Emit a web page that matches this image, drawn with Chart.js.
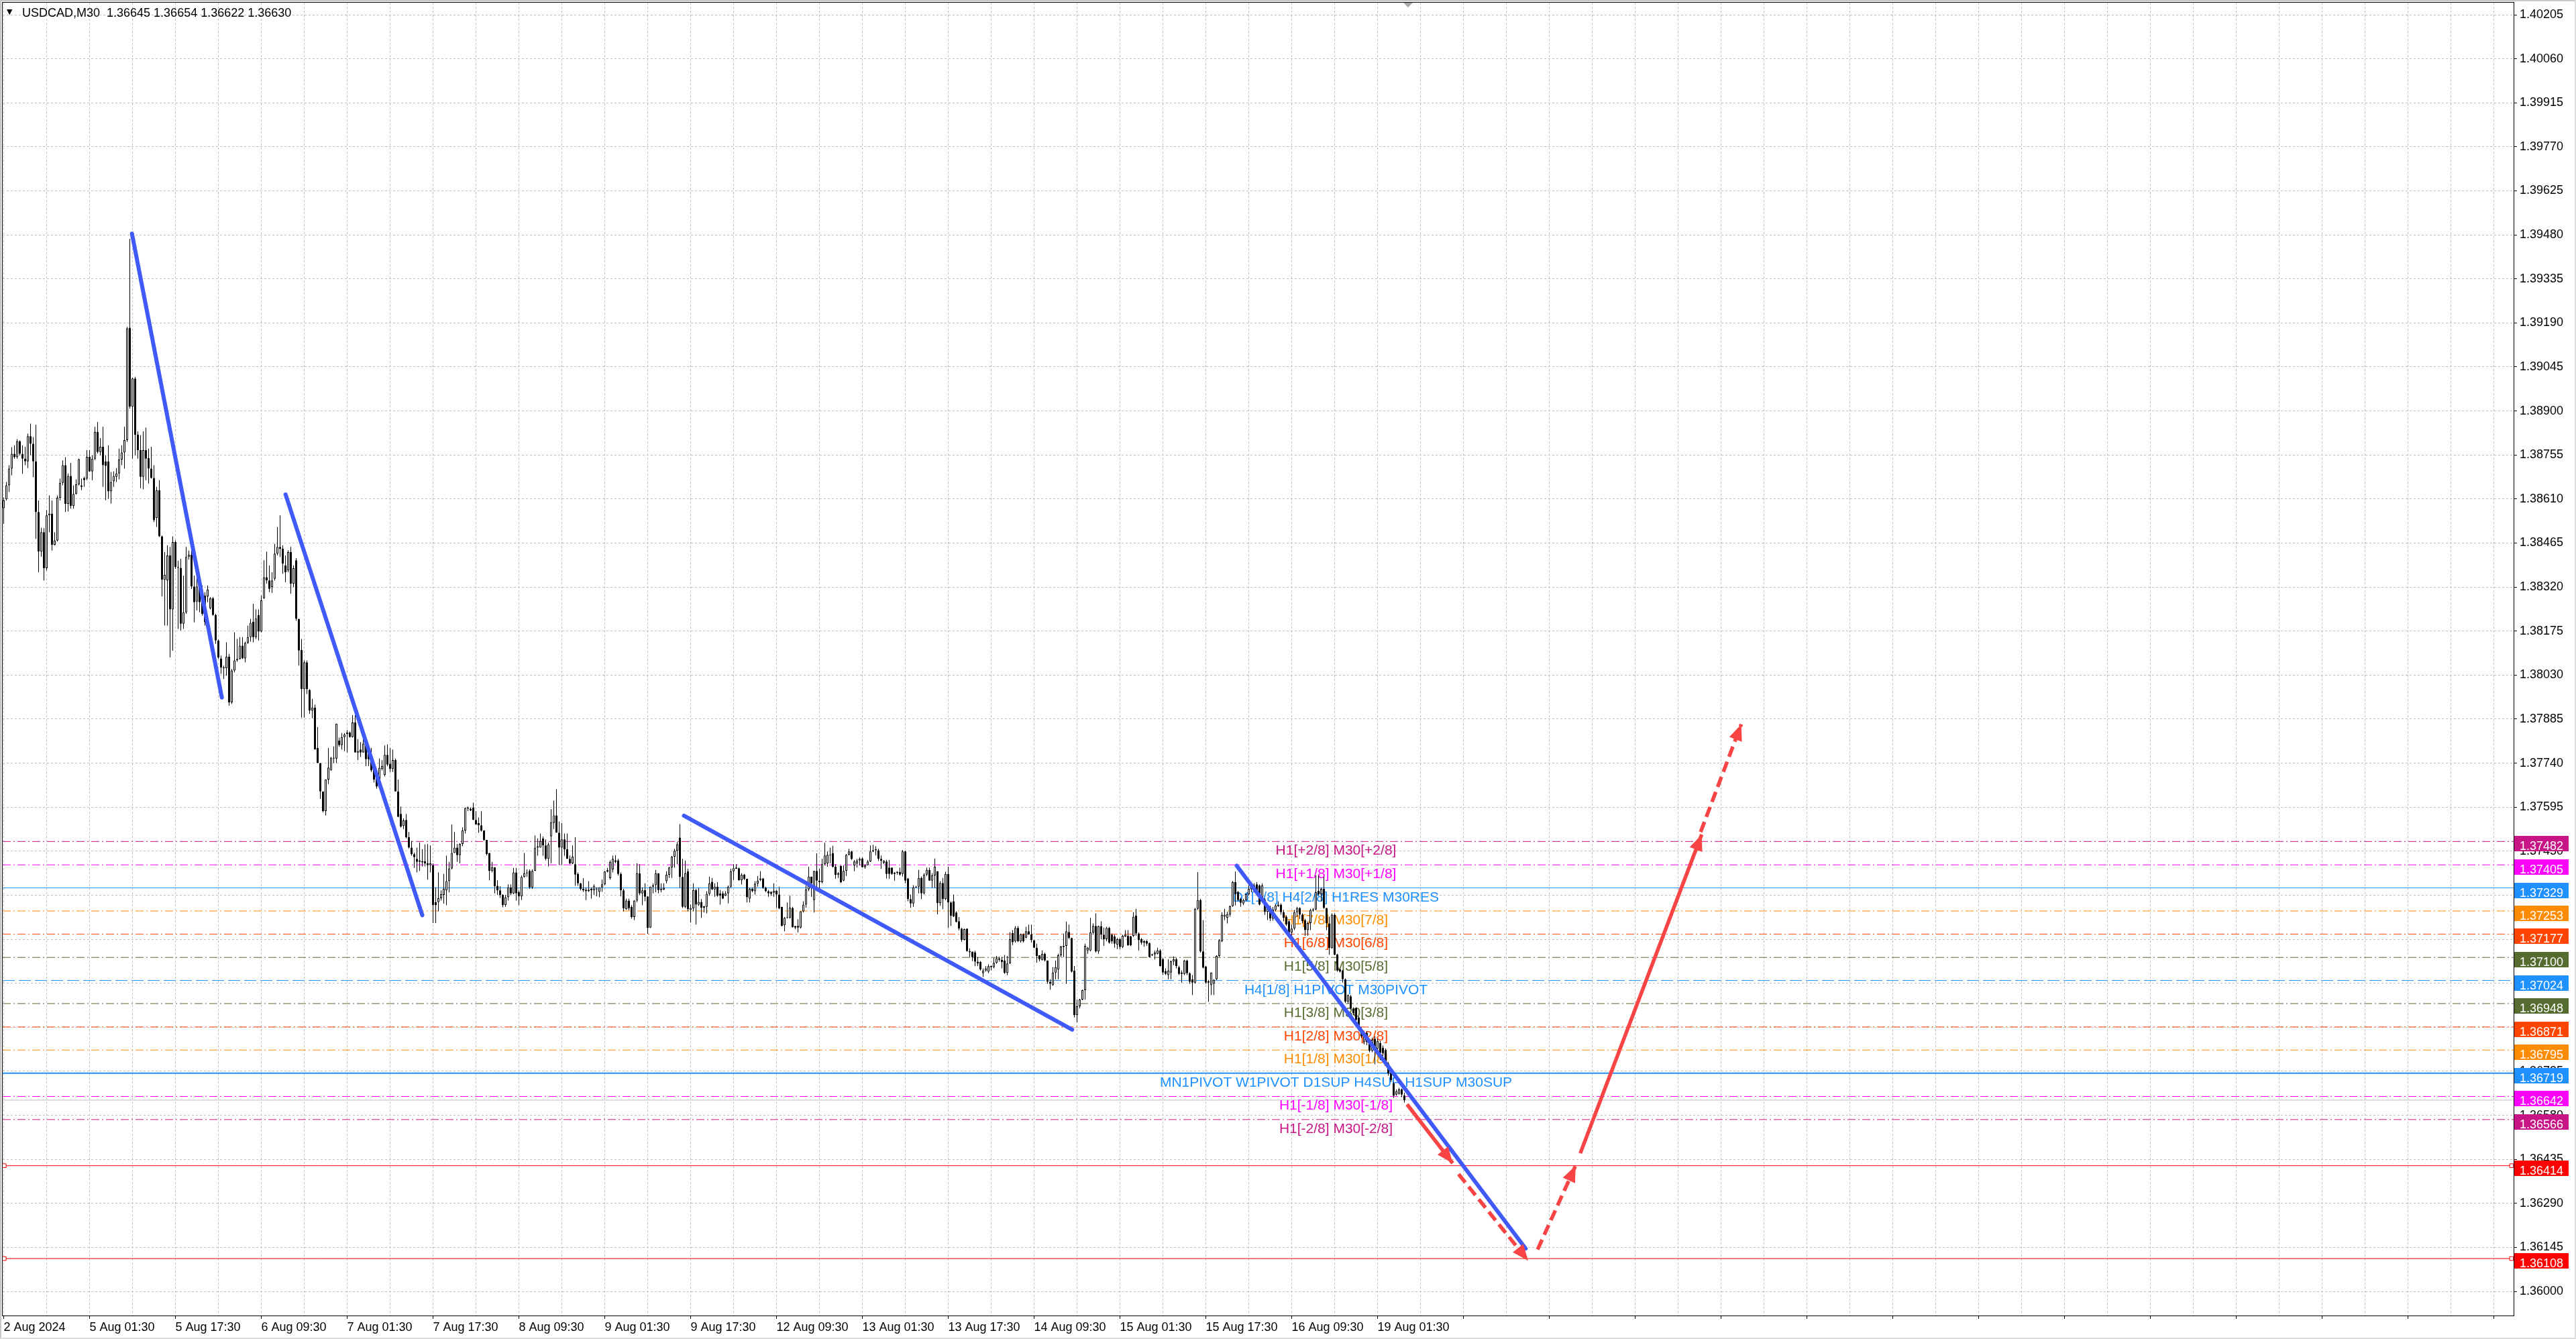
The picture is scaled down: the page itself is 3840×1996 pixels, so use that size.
<!DOCTYPE html>
<html>
<head>
<meta charset="utf-8">
<title>USDCAD,M30</title>
<script src="https://cdn.jsdelivr.net/npm/chart.js@4.4.1/dist/chart.umd.min.js"></script>
<style>
  html, body { margin: 0; padding: 0; background: #ffffff; overflow: hidden; }
  #wrap { position: relative; width: 3840px; height: 1996px; }
</style>
</head>
<body>
<div id="wrap"><canvas id="chart" width="3840" height="1996"></canvas></div>
<script>
// Symbol shown in the header
const symbol = 'USDCAD,M30';

// M30 candles, prices stored as points above 1.0 (38605 = 1.38605)
const opens = [
  38580,38609,38655,38710,38759,38748,38800,38759,38743,38734,
  38817,38792,38734,38567,38437,38501,38382,38556,38562,38459,
  38473,38614,38663,38721,38594,38686,38587,38627,38658,38650,
  38679,38677,38749,38701,38743,38831,38765,38782,38734,38734,
  38635,38668,38683,38694,38740,38763,38804,39174,38914,39007,
  38822,38771,38683,38771,38745,38710,38679,38547,38639,38487,
  38344,38342,38424,38246,38468,38386,38383,38199,38237,38419,
  38426,38322,38272,38325,38294,38292,38289,38250,38283,38228,
  38144,38085,38055,38052,38091,37940,38045,38078,38083,38127,
  38085,38136,38155,38206,38155,38228,38173,38283,38352,38342,
  38320,38347,38430,38452,38446,38391,38375,38435,38331,38408,
  38215,38113,37984,38072,37981,37913,37923,37790,37740,37647,
  37582,37686,37716,37758,37755,37814,37799,37826,37836,37841,
  37826,37874,37775,37785,37775,37804,37780,37755,37721,37691,
  37681,37721,37701,37767,37738,37721,37750,37647,37573,37533,
  37553,37496,37462,37440,37425,37415,37413,37417,37410,37404,
  37404,37282,37282,37295,37306,37321,37351,37393,37444,37462,
  37437,37474,37518,37594,37590,37594,37553,37543,37535,37518,
  37487,37444,37385,37397,37336,37321,37306,37272,37298,37331,
  37311,37380,37316,37301,37365,37377,37385,37331,37385,37462,
  37462,37492,37469,37425,37499,37543,37568,37511,37462,37489,
  37456,37425,37410,37407,37375,37344,37326,37323,37318,37326,
  37321,37326,37316,37331,37341,37383,37361,37390,37420,37420,
  37375,37321,37259,37287,37267,37233,37287,37377,37311,37322,
  37301,37198,37333,37338,37377,37326,37323,37351,37372,37396,
  37432,37451,37495,37365,37267,37384,37257,37262,37322,37274,
  37283,37264,37267,37309,37349,37324,37333,37311,37311,37303,
  37311,37333,37384,37392,37394,37354,37373,37359,37294,37326,
  37318,37343,37355,37360,37329,37318,37316,37313,37320,37307,
  37267,37206,37230,37230,37263,37204,37204,37198,37252,37274,
  37324,37366,37289,37385,37353,37348,37407,37410,37438,37443,
  37399,37377,37401,37353,37385,37438,37449,37403,37409,37419,
  37426,37397,37404,37416,37449,37453,37453,37425,37412,37416,
  37396,37396,37375,37379,37382,37375,37449,37360,37292,37278,
  37331,37333,37362,37311,37373,37388,37353,37370,37384,37279,
  37345,37292,37375,37281,37285,37248,37219,37195,37158,37195,
  37121,37119,37117,37086,37085,37048,37057,37053,37068,37068,
  37082,37097,37092,37090,37049,37080,37180,37153,37197,37153,
  37176,37165,37186,37176,37157,37132,37107,37092,37112,37090,
  37020,37009,37050,37060,37107,37134,37138,37184,37164,37057,
  36910,36939,36961,36992,37123,37123,37182,37204,37120,37203,
  37175,37160,37197,37175,37169,37142,37160,37134,37169,37171,
  37169,37171,37238,37179,37160,37149,37154,37147,37110,37110,
  37112,37123,37094,37055,37042,37050,37087,37094,37068,37046,
  37046,37090,37048,37028,37017,37260,37289,37120,37070,37022,
  37009,37013,37028,37105,37153,37234,37230,37241,37269,37348,
  37316,37293,37278,37289,37308,37324,37337,37341,37337,37297,
  37290,37250,37265,37228,37256,37269,37274,37249,37234,37219,
  37182,37195,37249,37263,37241,37223,37190,37213,37255,37258,
  37319,37308,37326,37263,37212,37131,37241,37110,37061,37057,
  37028,36954,36972,36932,36933,36902,36862,36821,36851,36825,
  36792,36832,36799,36818,36802,36795,36751,36721,36685,36648,
  36651,36665,36645
];
const highs = [
  38616,38666,38721,38781,38787,38807,38803,38787,38782,38825,
  38858,38814,38855,38605,38515,38514,38573,38622,38605,38501,
  38622,38677,38737,38748,38694,38729,38655,38675,38743,38677,
  38683,38771,38771,38754,38848,38864,38811,38848,38754,38787,
  38699,38701,38712,38776,38787,38848,39177,39467,39009,39012,
  38833,38820,38833,38845,38776,38782,38721,38650,38672,38490,
  38435,38457,38452,38487,38474,38407,38413,38358,38452,38440,
  38457,38358,38358,38330,38325,38303,38325,38287,38287,38232,
  38147,38094,38061,38138,38100,38050,38171,38149,38155,38155,
  38140,38193,38215,38265,38246,38246,38292,38408,38437,38391,
  38369,38462,38518,38556,38457,38424,38441,38452,38391,38415,
  38215,38149,38078,38078,37984,37952,37933,37859,37740,37647,
  37686,37790,37760,37795,37870,37824,37839,37839,37849,37844,
  37898,37898,37819,37809,37824,37829,37790,37790,37730,37701,
  37755,37750,37798,37802,37790,37785,37755,37686,37597,37558,
  37573,37513,37484,37445,37462,37479,37456,37472,37474,37469,
  37410,37331,37380,37321,37375,37435,37415,37538,37513,37474,
  37476,37528,37594,37597,37594,37610,37582,37561,37582,37518,
  37487,37444,37415,37397,37354,37334,37308,37306,37341,37341,
  37395,37395,37321,37370,37444,37390,37390,37390,37502,37492,
  37508,37498,37489,37479,37588,37617,37654,37548,37543,37508,
  37508,37435,37469,37496,37380,37346,37361,37331,37351,37331,
  37341,37331,37331,37356,37385,37395,37420,37435,37437,37425,
  37380,37326,37294,37294,37272,37289,37410,37407,37331,37344,
  37301,37333,37344,37388,37377,37344,37344,37384,37399,37434,
  37458,37480,37539,37425,37419,37392,37274,37344,37326,37329,
  37292,37270,37318,37366,37362,37344,37348,37322,37318,37318,
  37337,37392,37407,37407,37396,37377,37375,37359,37329,37329,
  37351,37368,37384,37362,37333,37322,37318,37344,37322,37333,
  37267,37233,37281,37303,37267,37204,37226,37252,37285,37337,
  37399,37366,37385,37443,37392,37425,37478,37449,37462,37468,
  37407,37381,37403,37403,37441,37458,37451,37421,37425,37429,
  37429,37407,37421,37469,37471,37466,37458,37436,37421,37421,
  37421,37396,37381,37384,37396,37454,37451,37362,37307,37338,
  37336,37388,37366,37377,37396,37396,37377,37426,37384,37351,
  37362,37382,37399,37285,37307,37252,37233,37197,37195,37195,
  37130,37119,37122,37101,37088,37064,37071,37077,37073,37099,
  37105,37102,37102,37108,37105,37183,37190,37203,37203,37179,
  37179,37201,37208,37208,37157,37145,37107,37123,37116,37090,
  37028,37068,37090,37112,37138,37179,37218,37208,37165,37072,
  36961,36964,36994,37145,37134,37230,37212,37245,37205,37219,
  37198,37201,37201,37179,37175,37164,37164,37175,37190,37190,
  37171,37249,37260,37182,37164,37157,37157,37149,37112,37123,
  37132,37127,37098,37064,37094,37090,37103,37098,37073,37057,
  37092,37092,37051,37042,37263,37381,37293,37223,37072,37026,
  37050,37028,37107,37160,37249,37260,37250,37271,37352,37383,
  37319,37297,37293,37311,37338,37348,37344,37348,37341,37344,
  37295,37274,37270,37266,37275,37285,37278,37256,37238,37223,
  37208,37256,37267,37265,37245,37227,37218,37260,37263,37370,
  37370,37330,37365,37263,37234,37245,37245,37112,37064,37059,
  37031,36978,36976,36936,36936,36906,36870,36855,36858,36829,
  36836,36840,36832,36825,36810,36800,36755,36725,36690,36665,
  36670,36668,36654
];
const lows = [
  38528,38605,38633,38688,38743,38743,38754,38693,38721,38712,
  38754,38682,38479,38369,38420,38342,38375,38501,38440,38457,
  38470,38605,38655,38567,38569,38578,38578,38625,38655,38639,
  38650,38672,38699,38672,38738,38760,38754,38650,38606,38611,
  38595,38650,38666,38675,38721,38710,38798,38908,38743,38754,
  38743,38646,38642,38672,38661,38677,38534,38518,38485,38289,
  38193,38193,38088,38110,38380,38182,38177,38182,38232,38410,
  38314,38204,38243,38237,38226,38193,38270,38246,38226,38133,
  38083,38034,38017,38028,37929,37935,38039,38074,38081,38083,
  38072,38133,38140,38138,38149,38144,38171,38281,38331,38303,
  38301,38342,38424,38419,38364,38336,38369,38298,38320,38209,
  38061,37890,37890,37968,37902,37888,37785,37740,37622,37578,
  37568,37671,37716,37740,37740,37794,37785,37780,37775,37824,
  37824,37775,37750,37760,37775,37730,37730,37711,37676,37656,
  37676,37716,37696,37730,37711,37711,37647,37563,37528,37523,
  37492,37459,37435,37395,37380,37385,37400,37400,37356,37380,
  37213,37213,37252,37287,37277,37272,37314,37390,37444,37415,
  37410,37466,37508,37582,37582,37553,37538,37511,37515,37484,
  37436,37354,37380,37311,37306,37296,37265,37267,37287,37306,
  37308,37287,37272,37289,37363,37365,37326,37326,37385,37435,
  37462,37435,37420,37400,37410,37523,37511,37405,37405,37435,
  37425,37407,37407,37336,37336,37321,37316,37289,37316,37294,
  37306,37301,37298,37316,37338,37380,37356,37380,37410,37370,
  37301,37252,37257,37255,37228,37223,37282,37306,37272,37285,
  37178,37197,37311,37315,37311,37315,37322,37344,37362,37362,
  37396,37407,37329,37263,37263,37252,37215,37252,37208,37270,
  37230,37248,37245,37303,37322,37300,37300,37274,37292,37302,
  37278,37329,37355,37392,37353,37340,37355,37281,37281,37315,
  37307,37333,37351,37326,37315,37300,37303,37300,37263,37259,
  37202,37186,37228,37228,37198,37193,37182,37195,37248,37264,
  37318,37300,37248,37318,37322,37344,37403,37399,37410,37396,
  37359,37362,37345,37351,37368,37436,37421,37384,37396,37403,
  37396,37392,37403,37414,37447,37436,37418,37392,37407,37360,
  37359,37372,37353,37373,37370,37366,37344,37285,37264,37267,
  37329,37311,37292,37307,37368,37353,37329,37329,37242,37270,
  37259,37289,37197,37204,37233,37215,37189,37152,37156,37119,
  37101,37088,37071,37071,37057,37035,37053,37048,37057,37064,
  37079,37086,37064,37046,37042,37079,37141,37149,37151,37149,
  37149,37163,37175,37149,37131,37083,37087,37090,37087,37013,
  36994,37007,37028,37028,37101,37101,37013,37160,37050,36902,
  36886,36932,36959,36961,37112,37120,37175,37116,37112,37160,
  37138,37153,37145,37145,37132,37127,37127,37131,37168,37138,
  37137,37168,37171,37123,37142,37135,37138,37100,37105,37094,
  37110,37070,37042,37042,37028,37028,37075,37064,37042,37017,
  37042,37042,37013,36976,37014,37256,37116,37064,37013,36954,
  36976,36976,37026,37101,37151,37223,37212,37234,37267,37271,
  37285,37267,37272,37285,37304,37315,37315,37304,37271,37290,
  37240,37223,37220,37221,37252,37267,37241,37219,37204,37179,
  37171,37190,37234,37227,37212,37171,37171,37190,37250,37255,
  37304,37285,37260,37190,37109,37129,37107,37053,37050,37017,
  36950,36948,36928,36910,36891,36858,36835,36814,36811,36788,
  36788,36748,36792,36762,36775,36745,36711,36690,36637,36645,
  36648,36640,36622
];
const closes = [
  38605,38655,38710,38759,38748,38800,38759,38743,38734,38817,
  38792,38734,38567,38437,38501,38382,38556,38562,38459,38473,
  38614,38663,38721,38594,38686,38587,38627,38658,38741,38655,
  38672,38749,38701,38743,38831,38765,38782,38721,38719,38635,
  38666,38686,38694,38740,38763,38804,39172,38914,39007,38822,
  38771,38683,38771,38743,38710,38679,38540,38639,38487,38344,
  38360,38424,38246,38468,38386,38383,38199,38237,38419,38426,
  38322,38270,38322,38270,38232,38204,38312,38283,38228,38144,
  38088,38055,38052,38091,37940,38045,38078,38083,38127,38085,
  38136,38155,38202,38155,38217,38173,38276,38352,38342,38314,
  38342,38430,38452,38446,38397,38369,38435,38331,38382,38215,
  38111,37984,38072,37984,37913,37923,37785,37740,37647,37582,
  37686,37725,37758,37755,37870,37799,37826,37834,37841,37826,
  37874,37775,37780,37775,37804,37753,37753,37716,37686,37663,
  37724,37730,37767,37735,37721,37750,37647,37563,37531,37551,
  37496,37462,37440,37430,37415,37420,37417,37410,37404,37410,
  37272,37272,37295,37308,37326,37351,37393,37444,37462,37437,
  37474,37518,37592,37590,37584,37553,37538,37535,37518,37487,
  37441,37385,37397,37334,37321,37306,37272,37298,37331,37311,
  37380,37311,37301,37365,37377,37380,37331,37385,37462,37466,
  37484,37469,37425,37472,37545,37568,37511,37462,37489,37456,
  37425,37410,37432,37373,37344,37326,37321,37318,37323,37321,
  37336,37324,37331,37341,37383,37387,37415,37425,37415,37375,
  37321,37262,37287,37262,37233,37287,37377,37311,37321,37300,
  37197,37333,37338,37377,37322,37322,37329,37373,37396,37432,
  37451,37473,37365,37267,37377,37259,37263,37322,37274,37283,
  37264,37269,37309,37344,37324,37333,37303,37303,37294,37311,
  37333,37384,37394,37396,37354,37372,37359,37298,37326,37318,
  37343,37353,37360,37329,37318,37311,37309,37320,37307,37261,
  37204,37230,37230,37264,37200,37198,37198,37252,37274,37324,
  37366,37344,37385,37353,37348,37407,37436,37438,37436,37399,
  37372,37373,37348,37385,37438,37449,37424,37416,37419,37425,
  37397,37404,37416,37449,37453,37456,37425,37418,37418,37375,
  37375,37375,37379,37382,37373,37449,37353,37292,37278,37331,
  37333,37362,37311,37373,37388,37353,37370,37399,37279,37345,
  37292,37375,37281,37237,37235,37217,37195,37158,37193,37121,
  37117,37101,37086,37080,37060,37057,37064,37071,37072,37082,
  37097,37092,37085,37049,37080,37160,37150,37197,37153,37176,
  37153,37186,37175,37157,37132,37105,37094,37112,37090,37020,
  37013,37050,37068,37107,37136,37138,37186,37164,37053,36910,
  36939,36961,36992,37138,37132,37182,37204,37120,37203,37175,
  37160,37197,37149,37153,37145,37160,37134,37171,37175,37140,
  37140,37234,37179,37157,37149,37154,37145,37101,37107,37116,
  37123,37072,37050,37046,37056,37087,37094,37072,37046,37050,
  37090,37048,37020,37017,37260,37289,37120,37066,37017,37017,
  37050,37026,37105,37157,37240,37241,37243,37269,37348,37308,
  37289,37280,37289,37308,37326,37337,37326,37308,37274,37337,
  37250,37265,37228,37258,37271,37274,37249,37230,37208,37182,
  37195,37249,37263,37241,37219,37190,37213,37256,37258,37315,
  37308,37326,37263,37212,37131,37241,37109,37057,37053,37028,
  36954,36976,36932,36917,36895,36862,36840,36851,36821,36792,
  36829,36799,36825,36785,36784,36751,36718,36696,36644,36659,
  36665,36648,36630
];

// Time axis labels, one every 32 bars
const timeLabels = ['2 Aug 2024', '5 Aug 01:30', '5 Aug 17:30', '6 Aug 09:30', '7 Aug 01:30',
  '7 Aug 17:30', '8 Aug 09:30', '9 Aug 01:30', '9 Aug 17:30', '12 Aug 09:30', '13 Aug 01:30',
  '13 Aug 17:30', '14 Aug 09:30', '15 Aug 01:30', '15 Aug 17:30', '16 Aug 09:30', '19 Aug 01:30'];

// Price axis ticks
const priceTicks = [1.40205, 1.40060, 1.39915, 1.39770, 1.39625, 1.39480, 1.39335, 1.39190,
  1.39045, 1.38900, 1.38755, 1.38610, 1.38465, 1.38320, 1.38175, 1.38030, 1.37885, 1.37740,
  1.37595, 1.37450, 1.37305, 1.37160, 1.37015, 1.36870, 1.36725, 1.36580, 1.36435, 1.36290,
  1.36145, 1.36000];

// Murrey levels and their names
const levelPrices = [1.37482, 1.37405, 1.37329, 1.37253, 1.37177, 1.37100, 1.37024,
  1.36948, 1.36871, 1.36795, 1.36719, 1.36642, 1.36566];
const levelNames = ['H1[+2/8] M30[+2/8]', 'H1[+1/8] M30[+1/8]', 'D1[1/8] H4[2/8] H1RES M30RES',
  'H1[7/8] M30[7/8]', 'H1[6/8] M30[6/8]', 'H1[5/8] M30[5/8]', 'H4[1/8] H1PIVOT M30PIVOT',
  'H1[3/8] M30[3/8]', 'H1[2/8] M30[2/8]', 'H1[1/8] M30[1/8]',
  'MN1PIVOT W1PIVOT D1SUP H4SUP H1SUP M30SUP', 'H1[-1/8] M30[-1/8]', 'H1[-2/8] M30[-2/8]'];

// Target lines and current bid
const targetPrices = [1.36414, 1.36108];
const bidPrice = 1.36630;

// Trend lines and forecast arrows, as [bar, price] pairs
const trendLines = [
  [[47.8, 1.39484], [81.3, 1.37956]],
  [[105.05, 1.38625], [156.0, 1.37239]],
  [[253.5, 1.37567], [398.2, 1.36862]],
  [[459.5, 1.37402], [567.2, 1.36141]]
];
const forecastArrows = [
  [[523.0, 1.36616], [540.0, 1.36422]],
  [[542.2, 1.36386], [568.1, 1.36101]],
  [[571.65, 1.36138], [585.8, 1.36414]],
  [[587.55, 1.36455], [632.8, 1.37505]],
  [[632.4, 1.37513], [647.55, 1.37868]]
];
const forecastDashed = [false, true, true, false, true];

// ---- styles ----
const levelColors = ['#C71585', '#FF00FF', '#1E90FF', '#FF8C00', '#FF4500', '#556B2F', '#1E90FF',
  '#556B2F', '#FF4500', '#FF8C00', '#1E90FF', '#FF00FF', '#C71585'];
const DASHDOT = [12, 4, 2, 4];
const DASH = [18, 6];
const levelDash = [DASHDOT, DASHDOT, [], DASHDOT, DASHDOT, DASHDOT, DASH, DASHDOT, DASHDOT, DASHDOT, [], DASHDOT, DASHDOT];
const levelWidths = [1, 1, 1, 1, 1, 1, 1, 1, 1, 1, 2, 1, 1];

const X_MIN = -0.375, X_MAX = 935.375;   // 4 px per bar
const Y_MIN = 1.359205, Y_MAX = 1.402448;
const LABEL_STEP = 32, GRID_STEP = 16;
const LABEL_BAR = 496.5;                  // where level names are centred
const AXIS_FONT = '"Liberation Sans", Arial, sans-serif';
const TEXT_FONT = '"Liberation Sans", Arial, sans-serif';
const TREND_BLUE = '#3F5AF8';
const ARROW_RED = '#F84444';

const toPrice = v => 1 + v / 100000;
const idx = closes.map((_, i) => i);
const wickData = idx.map(i => ({ x: i, y: [toPrice(lows[i]), toPrice(highs[i])] }));
const bodyData = idx.map(i => ({ x: i, y: [toPrice(opens[i]), toPrice(closes[i])] }));
const bodyFill = idx.map(i => (closes[i] >= opens[i] ? '#FFFFFF' : '#000000'));

const datasets = [];
datasets.push({
  type: 'line', data: [{ x: X_MIN, y: bidPrice }, { x: X_MAX, y: bidPrice }],
  borderColor: '#C0C0C0', borderWidth: 1, pointRadius: 0, order: 31
});
levelPrices.forEach((p, i) => datasets.push({
  type: 'line', data: [{ x: X_MIN, y: p }, { x: X_MAX, y: p }],
  borderColor: levelColors[i], borderWidth: levelWidths[i], borderDash: levelDash[i],
  pointRadius: 0, order: 30
}));
targetPrices.forEach(p => datasets.push({
  type: 'line', data: [{ x: X_MIN, y: p }, { x: 0.2, y: p }, { x: 934.6, y: p }, { x: X_MAX, y: p }],
  borderColor: '#FF0000', borderWidth: 1, pointStyle: 'rect', pointRadius: [0, 4, 4, 0],
  pointBackgroundColor: '#FFFFFF', pointBorderColor: '#FF0000', pointBorderWidth: 1, order: 29
}));
datasets.push({
  type: 'bar', label: 'wicks', data: wickData, backgroundColor: '#000000', borderWidth: 0,
  barThickness: 1, grouped: false, minBarLength: 1, inflateAmount: 0, order: 20
});
datasets.push({
  type: 'bar', label: 'bodies', data: bodyData, backgroundColor: bodyFill, borderColor: '#000000',
  borderWidth: 1, borderSkipped: false, barThickness: 3, grouped: false, minBarLength: 1,
  inflateAmount: 0, order: 19
});
trendLines.forEach(seg => datasets.push({
  type: 'line', data: seg.map(([x, y]) => ({ x, y })), borderColor: TREND_BLUE, borderWidth: 6,
  borderCapStyle: 'round', pointRadius: 0, order: 10
}));
forecastArrows.forEach((seg, i) => datasets.push({
  type: 'line', arrow: true, data: seg.map(([x, y]) => ({ x, y })), borderColor: ARROW_RED,
  borderWidth: 5.5, borderDash: forecastDashed[i] ? [16, 8] : [], borderCapStyle: 'butt',
  pointRadius: 0, order: 5
}));

function drawLevelNames(chart) {
  const { ctx, scales: { x, y } } = chart;
  ctx.save();
  ctx.font = '21px ' + TEXT_FONT;
  ctx.textAlign = 'center';
  ctx.textBaseline = 'alphabetic';
  const cx = x.getPixelForValue(LABEL_BAR);
  levelNames.forEach((name, i) => {
    ctx.fillStyle = levelColors[i];
    ctx.fillText(name, cx, y.getPixelForValue(levelPrices[i]) + 20);
  });
  ctx.restore();
}

function drawArrowHeads(chart) {
  const ctx = chart.ctx;
  const len = 24, half = 10;
  chart.data.datasets.forEach((ds, i) => {
    if (!ds.arrow) return;
    const pts = chart.getDatasetMeta(i).data;
    const a = pts[pts.length - 2], b = pts[pts.length - 1];
    const ang = Math.atan2(b.y - a.y, b.x - a.x);
    const bx = b.x - len * Math.cos(ang), by = b.y - len * Math.sin(ang);
    ctx.save();
    ctx.fillStyle = ds.borderColor;
    ctx.beginPath();
    ctx.moveTo(b.x, b.y);
    ctx.lineTo(bx + half * Math.sin(ang), by - half * Math.cos(ang));
    ctx.lineTo(bx - half * Math.sin(ang), by + half * Math.cos(ang));
    ctx.closePath();
    ctx.fill();
    ctx.restore();
  });
}

const terminal = {
  id: 'terminal',
  beforeDraw(chart) {
    const { ctx, width, height } = chart;
    ctx.save();
    ctx.fillStyle = '#FFFFFF';
    ctx.fillRect(0, 0, width, height);
    ctx.fillStyle = '#C8C8C8';
    ctx.fillRect(0, 0, width, 2);
    ctx.fillRect(0, 0, 2, height);
    ctx.fillStyle = '#DCDCDC';
    ctx.fillRect(width - 2, 0, 2, height);
    ctx.fillRect(0, height - 2, width, 2);
    ctx.restore();
  },
  beforeDatasetDraw(chart, args) {
    if (chart.data.datasets[args.index].label === 'wicks') drawLevelNames(chart);
  },
  afterDatasetsDraw(chart) {
    drawArrowHeads(chart);
  },
  afterDraw(chart) {
    const { ctx, chartArea: a, scales: { x, y } } = chart;
    ctx.save();
    // chart frame
    ctx.strokeStyle = '#000000';
    ctx.lineWidth = 1;
    ctx.strokeRect(a.left - 0.5, a.top - 0.5, a.right - a.left + 1, a.bottom - a.top + 1);
    // chart shift marker
    const sx = Math.round(x.getPixelForValue(closes.length + 0.4));
    ctx.fillStyle = '#A8A8A8';
    ctx.beginPath();
    ctx.moveTo(sx - 7, a.top);
    ctx.lineTo(sx + 7, a.top);
    ctx.lineTo(sx, a.top + 7);
    ctx.closePath();
    ctx.fill();
    // price boxes on the axis
    ctx.font = '18px ' + AXIS_FONT;
    ctx.textAlign = 'left';
    ctx.textBaseline = 'alphabetic';
    const boxes = levelPrices.map((p, i) => [p, levelColors[i]]).concat(targetPrices.map(p => [p, '#FF0000']));
    boxes.forEach(([p, c]) => {
      const py = Math.round(y.getPixelForValue(p));
      ctx.fillStyle = c;
      ctx.fillRect(a.right + 1, py - 8, 81, 23);
      ctx.fillStyle = '#FFFFFF';
      ctx.fillText(p.toFixed(5), a.right + 9, py + 12.5);
    });
    // header
    const last = closes.length - 1;
    const q = v => toPrice(v).toFixed(5);
    ctx.fillStyle = '#000000';
    ctx.textBaseline = 'middle';
    ctx.font = '11px "DejaVu Sans", sans-serif';
    ctx.fillText('\u25BC', 10, 18);
    ctx.font = '18px ' + AXIS_FONT;
    ctx.fillText(symbol + '  ' + [opens[last], highs[last], lows[last], closes[last]].map(q).join(' '), 33, 20);
    ctx.restore();
  }
};

new Chart(document.getElementById('chart'), {
  type: 'line',
  data: { datasets },
  options: {
    responsive: false,
    devicePixelRatio: 1,
    animation: false,
    events: [],
    layout: { padding: { top: 4, left: 4, right: 0, bottom: 0 } },
    plugins: { legend: { display: false }, tooltip: { enabled: false } },
    scales: {
      x: {
        type: 'linear', min: X_MIN, max: X_MAX, offset: false,
        afterBuildTicks: s => {
          const t = [];
          for (let v = 0; v <= X_MAX; v += GRID_STEP) t.push({ value: v });
          s.ticks = t;
        },
        afterFit: s => { s.height = 35; s.paddingLeft = 0; s.paddingRight = 0; },
        ticks: {
          autoSkip: false, maxRotation: 0, minRotation: 0, align: 'start', padding: 2,
          color: '#000000', font: { family: AXIS_FONT, size: 18 },
          callback: v => (v % LABEL_STEP === 0 ? (timeLabels[v / LABEL_STEP] || '') : '')
        },
        grid: {
          color: '#C0C0C0', lineWidth: 1, offset: false, tickLength: 5,
          tickColor: c => (c.tick && c.tick.value % LABEL_STEP === 0 ? '#000000' : 'rgba(0,0,0,0)')
        },
        border: { display: false, dash: [3, 3] }
      },
      y: {
        type: 'linear', position: 'right', min: Y_MIN, max: Y_MAX,
        afterBuildTicks: s => { s.ticks = priceTicks.map(v => ({ value: v })); },
        afterFit: s => { s.width = 93; s.paddingTop = 0; s.paddingBottom = 0; },
        ticks: {
          color: '#000000', padding: 4, font: { family: AXIS_FONT, size: 18 },
          callback: v => v.toFixed(5)
        },
        grid: { color: '#C0C0C0', lineWidth: 1, tickLength: 5, tickColor: '#000000' },
        border: { display: false, dash: [3, 3] }
      }
    }
  },
  plugins: [terminal]
});
</script>
</body>
</html>
